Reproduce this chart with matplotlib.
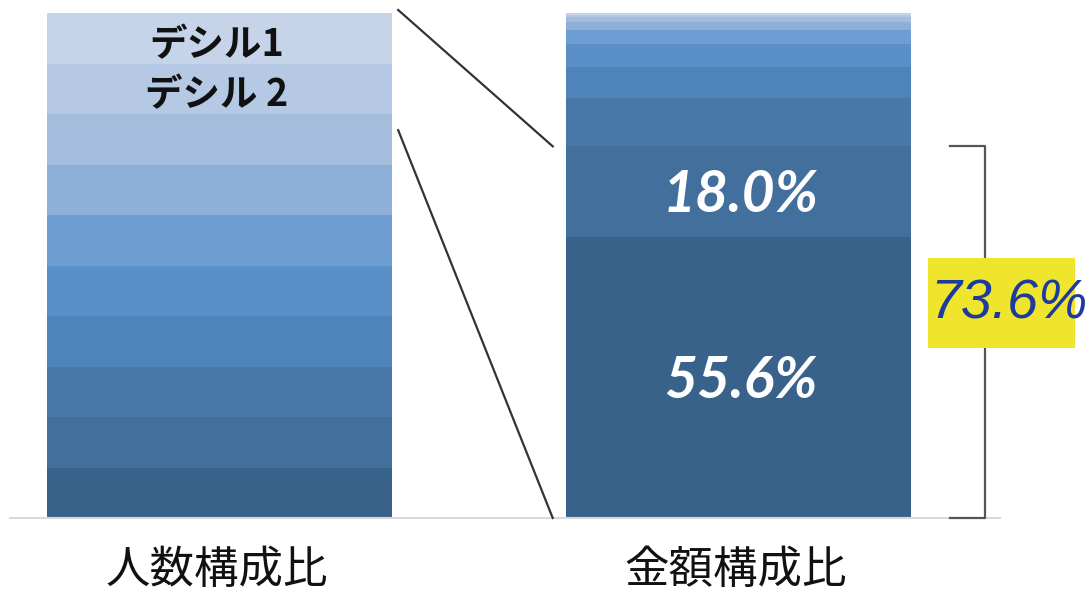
import matplotlib
matplotlib.use("Agg")
import matplotlib.pyplot as plt
from matplotlib.patches import Rectangle
import numpy as np

plt.rcParams["font.family"] = ["Noto Sans CJK JP", "DejaVu Sans"]

# Data: share by decile (1 = lowest), top of bar is decile 1
DECILES = ["デシル1", "デシル 2", "デシル3", "デシル4", "デシル5",
           "デシル6", "デシル7", "デシル8", "デシル9", "デシル10"]
PEOPLE_SHARE = [10, 10, 10, 10, 10, 10, 10, 10, 10, 10]
AMOUNT_SHARE = [0.3, 0.5, 0.9, 1.6, 2.9, 4.5, 6.2, 9.5, 18.0, 55.6]
CATEGORIES = ["人数構成比", "金額構成比"]
TOP_TWO_TOTAL = 73.6
# where the lower connector leaves the left bar
CONNECT_LEFT_LOW = 76.8

DECILE_COLORS = ["#c6d4e9", "#b5c9e5", "#a5bddd", "#8eafd8", "#6d9dd1",
                 "#5b8fc8", "#4f84bb", "#4878a8", "#426f9c", "#39628b"]
LINE_COLOR = "#333333"
BRACKET_COLOR = "#555555"
LABEL_BLUE = "#1d3b9e"
YELLOW = "#efe52c"

BAR_WIDTH = 0.665
x_pos = np.arange(len(CATEGORIES))

fig = plt.figure(figsize=(10.91, 5.92), dpi=100)
ax = fig.add_axes([0.0092, 0.125, 0.9074, 0.853])
ax.set_xlim(-0.404, 1.505)
ax.set_ylim(0, 100)


def stacked(x, shares):
    # stack from the top (decile 1) down to the bottom (decile 10)
    tops = 100 - np.concatenate([[0], np.cumsum(shares)[:-1]])
    for share, top, color in zip(shares, tops, DECILE_COLORS):
        ax.bar(x, share, bottom=top - share, width=BAR_WIDTH,
               color=color, edgecolor="none", zorder=2)
    return tops


left_tops = stacked(x_pos[0], PEOPLE_SHARE)
right_tops = stacked(x_pos[1], AMOUNT_SHARE)

# labels on left bar (decile 1 and 2)
for i in range(2):
    yc = left_tops[i] - PEOPLE_SHARE[i] / 2 - 1.2
    ax.text(x_pos[0] - 0.005, yc, DECILES[i], ha="center", va="center",
            fontsize=27, fontweight="bold", color="#111111", zorder=3)

# labels on right bar (decile 9 and 10)
for i in (8, 9):
    yc = right_tops[i] - AMOUNT_SHARE[i] / 2 - 0.8
    ax.text(x_pos[1] + 0.005, yc, f"{AMOUNT_SHARE[i]:.1f}%", ha="center",
            va="center", fontsize=41, fontweight="bold", style="italic",
            family=["Lato", "DejaVu Sans"], color="white", zorder=3)

# connector lines between the bars
x_l = x_pos[0] + BAR_WIDTH / 2 + 0.012
x_r = x_pos[1] - BAR_WIDTH / 2 - 0.025
ax.plot([x_l, x_r], [100.6, TOP_TWO_TOTAL], color=LINE_COLOR, lw=1.6,
        clip_on=False, zorder=3)
ax.plot([x_l, x_r], [CONNECT_LEFT_LOW, 0], color=LINE_COLOR, lw=1.6,
        clip_on=False, zorder=3)

# bracket for the top two deciles
bx = x_pos[1] + 0.476
ax.plot([bx - 0.067, bx, bx, bx - 0.067],
        [TOP_TWO_TOTAL, TOP_TWO_TOTAL, 0, 0],
        color=BRACKET_COLOR, lw=1.6, clip_on=False, zorder=3)

# highlighted total next to the bracket
ax.add_patch(Rectangle((bx - 0.110, 33.7), 0.284, 17.8, facecolor=YELLOW,
                       edgecolor="none", clip_on=False, zorder=4))
ax.text(bx + 0.047, 42.3, f"{TOP_TWO_TOTAL}%", ha="center", va="center",
        fontsize=40, style="italic", family=["Liberation Sans"],
        color=LABEL_BLUE, clip_on=False, zorder=5)

# category labels
for x, name in zip(x_pos, CATEGORIES):
    ax.text(x - 0.005, -10.3, name, ha="center", va="center",
            fontsize=32, color="#111111")

for side in ("top", "right", "left"):
    ax.spines[side].set_visible(False)
ax.spines["bottom"].set_color("#d9d9d9")
ax.spines["bottom"].set_linewidth(1.5)
ax.set_xticks([])
ax.set_yticks([])

fig.savefig("out.png", dpi=100, facecolor="white")
